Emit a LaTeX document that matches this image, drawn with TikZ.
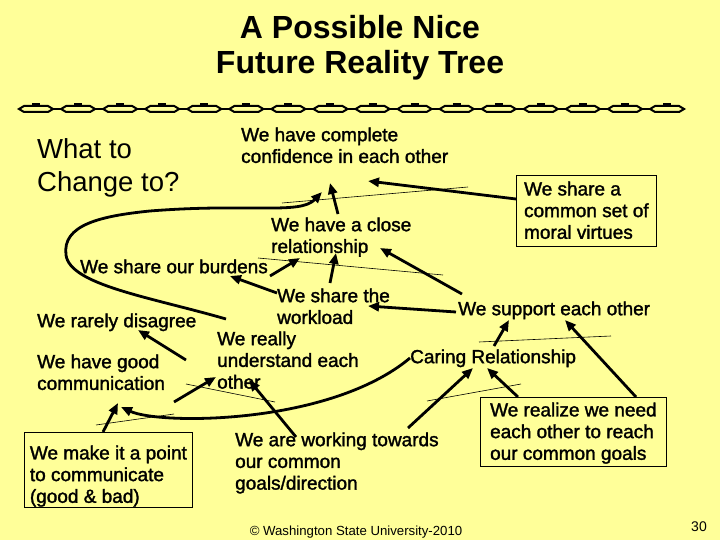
\documentclass[tikz,border=0pt]{standalone}
\usepackage{fontspec}
\setmainfont{Liberation Sans}
\newfontfamily\bodyfont[FakeBold=1.6]{Liberation Sans}
\usetikzlibrary{arrows.meta,calc}
\definecolor{bgyellow}{RGB}{255,255,153}
\begin{document}
\begin{tikzpicture}[x=1pt,y=-1pt,
  txt/.style={inner sep=0pt, anchor=north west, align=left, font=\bodyfont\fontsize{19}{21.7}\selectfont},
  boxnode/.style={draw=black, line width=0.8pt, anchor=north west, align=left, inner sep=0pt, font=\bodyfont\fontsize{19}{21.7}\selectfont},
  arr/.style={line width=2.8pt, -{Triangle[length=11pt,width=9pt]}},
  thinline/.style={line width=0.6pt},
  chain/.style={line width=2pt}]

\fill[bgyellow] (0,0) rectangle (720,540);
\useasboundingbox (0,0) rectangle (720,540);

% title
\node[anchor=north, align=center, inner sep=0pt, font=\fontsize{32}{35}\selectfont\bfseries] (title) at (360,15) {\rule{0pt}{23pt}A Possible Nice\\Future Reality Tree};

% decorative chain
\foreach \i in {0,...,15}{
  \pgfmathsetmacro{\cx}{36+\i*42.07}
  \draw[chain] (\cx-17,109) -- (\cx-12,106) -- (\cx+12,106) -- (\cx+17,109) -- (\cx+12,112) -- (\cx-12,112) -- cycle;
  \draw[chain] (\cx-4,104.5) -- (\cx+4,104.5);
}
\foreach \i in {0,...,14}{
  \pgfmathsetmacro{\cx}{36+\i*42.07}
  \draw[chain] (\cx+17,109) -- (\cx+25.07,109);
}

\node[txt, font=\fontsize{27.5}{33}\selectfont] (what) at (37,138) {\rule{0pt}{20pt}What to\\Change to?};

% nodes
\node[txt] (conf) at (241,127) {\rule{0pt}{14pt}We have complete\\confidence in each other};
\node[boxnode, minimum width=140pt] (moral) at (516,175) {\rule{0pt}{20pt}We share a\\common set of\\moral virtues\rule[-8pt]{0pt}{8pt}};
\node[txt] (close) at (271,217) {\rule{0pt}{14pt}We have a close\\relationship};
\node[txt] (burd) at (80,259) {\rule{0pt}{14pt}We share our burdens};
\node[txt] (work) at (277,288) {\rule{0pt}{14pt}We share the\\workload};
\node[txt] (sup) at (458,301) {\rule{0pt}{14pt}We support each other};
\node[txt] (rare) at (37,313) {\rule{0pt}{14pt}We rarely disagree};
\node[txt] (und) at (217,331) {\rule{0pt}{14pt}We really\\understand each\\other};
\node[txt] (good) at (37,354) {\rule{0pt}{14pt}We have good\\communication};
\node[txt] (care) at (410,349) {\rule{0pt}{14pt}Caring Relationship};
\node[boxnode, minimum width=168pt] (point) at (24,432) {\rule{0pt}{27pt}We make it a point\\to communicate\\(good \& bad)\rule[-5pt]{0pt}{5pt}};
\node[txt] (goal) at (235,432) {\rule{0pt}{14pt}We are working towards\\our common\\goals/direction};
\node[boxnode, minimum width=186pt] (need) at (480,397) {\rule{0pt}{19pt}We realize we need\\each other to reach\\our common goals\rule[-7pt]{0pt}{7pt}};

\node[inner sep=0pt, font=\fontsize{13.2}{15}\selectfont] (foot) at (356,532) {© Washington State University-2010};
\node[inner sep=0pt, font=\fontsize{14}{16}\selectfont] (num) at (699,527) {30};

% thin "and" lines
\draw[thinline] (282,203) -- (468,187);
\draw[thinline] (258,258) -- (443,275);
\draw[thinline] (479,342) -- (611,336);
\draw[thinline] (427,401) -- (521,384);
\draw[thinline] (186,384) -- (275,402);
\draw[thinline] (96,425) -- (174,414);

% arrows
\draw[arr] ($(moral.north west)+(0,24)$) -- ($(conf.north west)+(127,54)$);
\draw[arr] ($(close.north west)+(67,-3)$) -- ($(conf.north west)+(89,56)$);
\draw[arr] ($(und.north west)+(9,-12)$) .. controls (150,297) and (70,285) .. (66,255)
   .. controls (62,225) and (100,216) .. (150,211)
   .. controls (250,203) and (300,215) .. ($(conf.north west)+(81,65)$);
\draw[arr] ($(burd.north west)+(190,17)$) -- ($(close.north west)+(29,41)$);
\draw[arr] ($(work.north west)+(53,-5)$) -- ($(close.north west)+(65,36)$);
\draw[arr] ($(sup.north west)+(4,-7)$) -- ($(close.north west)+(109,31)$);
\draw[arr] ($(work.north west)+(0,5)$) -- ($(burd.north west)+(150,17)$);
\draw[arr] ($(sup.north west)+(-2,11)$) -- ($(work.north west)+(91,18)$);
\draw[arr] ($(und.north west)+(-31,29)$) -- ($(rare.north west)+(101,17)$);
\draw[arr] ($(care.north west)+(84,-3)$) -- ($(sup.north west)+(51,19)$);
\draw[arr] ($(good.north west)+(137,48)$) -- ($(und.north west)+(-1,46)$);
\draw[arr] ($(goal.north west)+(61,5)$) -- ($(und.north west)+(32,49)$);
\draw[arr] ($(care.north west)+(0,9)$) .. controls (330,425) and (160,425) .. ($(good.north west)+(84,53)$);
\draw[arr] ($(point.north west)+(79,0)$) -- ($(good.north west)+(81,49)$);
\draw[arr] ($(goal.north west)+(173,-4)$) -- ($(care.north west)+(63,19)$);
\draw[arr] ($(need.north west)+(38,0)$) -- ($(care.north west)+(77,19)$);
\draw[arr] ($(need.north west)+(156,0)$) -- ($(sup.north west)+(107,19)$);
\end{tikzpicture}
\end{document}
